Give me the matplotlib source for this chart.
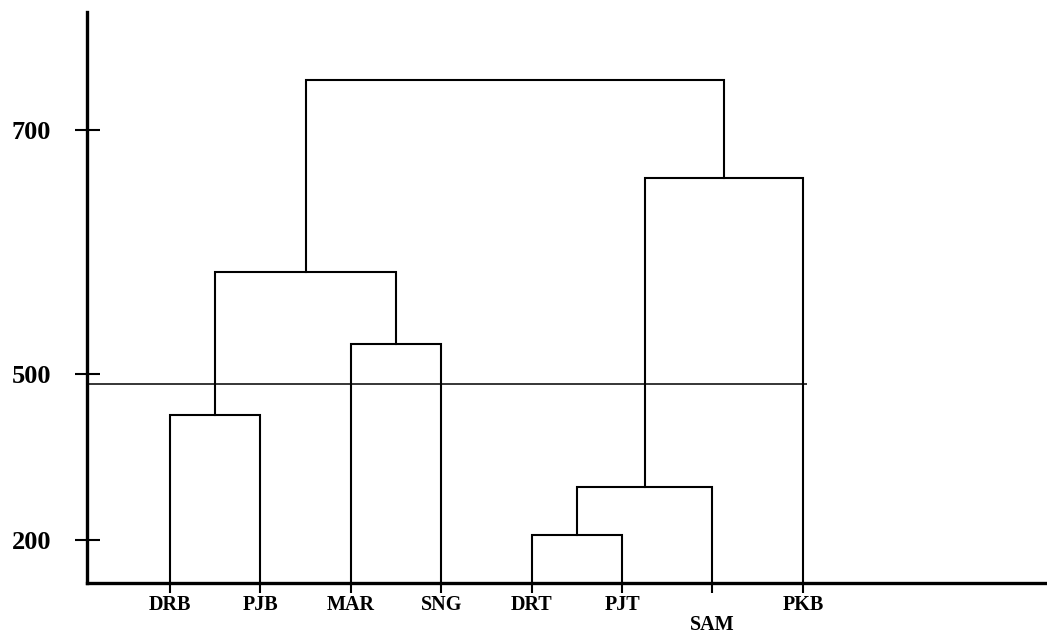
import numpy as np
import matplotlib
matplotlib.use('Agg')
import matplotlib.pyplot as plt

# leaves in drawing order
leaves = ['DRB', 'PJB', 'MAR', 'SNG', 'DRT', 'PJT', 'SAM', 'PKB']

# merges: node ids 0-7 are leaves, merge k creates node 8+k
merge_left = [0, 2, 8, 4, 11, 12, 10]
merge_right = [1, 3, 9, 5, 6, 7, 13]
merge_height = [426, 525, 584, 209, 296, 661, 741]

cut_height = 482
ytick_vals = [200, 500, 700]

# the printed axis is not linear: piecewise scale read off the tick spacing
scale_vals = [0, 200, 500, 700, 1000]
scale_pos = [0, 43, 209, 453, 819]


def fwd(v):
    return np.interp(v, scale_vals, scale_pos)


def inv(p):
    return np.interp(p, scale_pos, scale_vals)


plt.rcParams['font.family'] = 'Liberation Serif'
plt.rcParams['font.weight'] = 'bold'

fig = plt.figure(figsize=(10.47, 6.33), dpi=100)
ax = fig.add_axes([0.0831, 0.079, 0.9169, 0.902])
ax.set_yscale('function', functions=(fwd, inv))

xs = list(range(len(leaves)))
hs = [0] * len(leaves)
for l, r, h in zip(merge_left, merge_right, merge_height):
    ax.plot([xs[l], xs[l], xs[r], xs[r]], [hs[l], h, h, hs[r]],
            color='black', lw=1.5, solid_joinstyle='miter')
    xs.append((xs[l] + xs[r]) / 2)
    hs.append(h)

ax.hlines(cut_height, -0.9, 7.05, color='black', lw=1.1)

ax.set_xlim(-0.918, 9.70)
ax.set_ylim(0, 797)

for s in ['top', 'right']:
    ax.spines[s].set_visible(False)
for s in ['left', 'bottom']:
    ax.spines[s].set_linewidth(2.4)

ax.set_yticks(ytick_vals)
ax.set_yticklabels([str(v) for v in ytick_vals], fontsize=19, fontweight='bold')
ax.tick_params(axis='y', direction='inout', length=18, width=1.5, pad=17)

ax.set_xticks(range(len(leaves)))
ax.set_xticklabels(['\n' + n if n == 'SAM' else n for n in leaves],
                   fontsize=14.5, fontweight='bold', linespacing=0.95)
ax.tick_params(axis='x', direction='out', length=7, width=1.5, pad=2)

fig.savefig('out.png', dpi=100)
